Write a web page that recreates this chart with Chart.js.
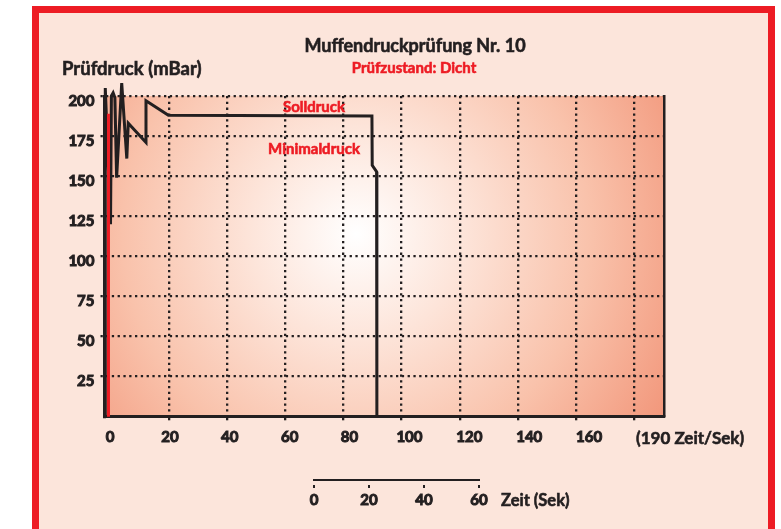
<!DOCTYPE html>
<html>
<head>
<meta charset="utf-8">
<script src="https://cdn.jsdelivr.net/npm/chart.js@4.4.0/dist/chart.umd.min.js"></script>
<style>
  html, body { margin: 0; padding: 0; width: 781px; height: 529px; overflow: hidden; background: #fff; }
  body { position: relative; font-family: Lato, "Open Sans", sans-serif; font-weight: 700; color: #231f20; }
  #frame { position: absolute; left: 32px; top: 6px; width: 729px; height: 560px; border: 7px solid #ed1c24; background: #fce5db; }
  canvas { position: absolute; }
  #main { left: 0; top: 0; }
  #bar { left: 290px; top: 465px; }
  .t { position: absolute; white-space: nowrap; line-height: 1; -webkit-text-stroke: 0.6px currentColor; }
  .red { color: #ed1c24; }
</style>
</head>
<body>
<div id="frame"></div>
<canvas id="main" width="781" height="529"></canvas>
<canvas id="bar" width="320" height="50"></canvas>

<div class="t" style="left:215px;width:400px;text-align:center;top:36px;font-size:18px;">Muffendruckprüfung Nr. 10</div>
<div class="t red" style="left:264px;width:300px;text-align:center;top:60px;font-size:15px;">Prüfzustand: Dicht</div>
<div class="t" style="left:62px;top:59px;font-size:18.5px;">Prüfdruck (mBar)</div>
<div class="t red" style="left:214px;width:200px;text-align:center;top:99px;font-size:15px;">Solldruck</div>
<div class="t red" style="left:214px;width:200px;text-align:center;top:141px;font-size:15px;">Minimaldruck</div>
<div class="t" style="left:636px;top:429px;font-size:17px;">(190 Zeit/Sek)</div>
<div class="t" style="left:501px;top:492px;font-size:16.5px;">Zeit (Sek)</div>

<script>
// Messwerte (Zeit in Sek, Druck in mBar)
const timeSec  = [-1.9, -1.9, -0.1, 0.2, 0.8, 1.4, 2.0, 3.75, 5.5, 6.0, 12.1, 12.1, 19.8, 89.8, 89.9, 91.4, 91.5];
const pressure = [0, 205, 120, 200, 202, 199, 149, 208, 161, 183, 171, 197, 188, 187.6, 156.8, 152.8, 0];

// rote Startmarke
const startTime     = [-0.8, -0.8];
const startPressure = [0, 189];

// Achsen
const yTicks    = [0, 25, 50, 75, 100, 125, 150, 175, 200];
const xGrid     = [20, 40, 60, 80, 100, 120, 140, 160, 180];
const xLabels   = [0, 20, 40, 60, 80, 100, 120, 140, 160];
const barLabels = [0, 20, 40, 60];

const ink = '#231f20';
const red = '#ed1c24';
const dots = [2.3, 3.5];
const tickFont = { family: 'Lato, "Open Sans", sans-serif', weight: 'bold', size: 15 };
const tickStyle = { color: ink, font: tickFont, textStrokeColor: ink, textStrokeWidth: 1 };

const toPoints = (xs, ys) => xs.map((x, i) => ({ x, y: ys[i] }));

// Hintergrund im Diagramm (radialer Verlauf)
const plotBg = {
  id: 'plotBg',
  beforeDraw(chart) {
    const { ctx, chartArea: a } = chart;
    const cx = a.left + (a.right - a.left) * 0.45;
    const cy = a.top + (a.bottom - a.top) * 0.43;
    const g = ctx.createRadialGradient(cx, cy, 0, cx, cy, 360);
    g.addColorStop(0, '#ffffff');
    g.addColorStop(0.3, '#fde4d9');
    g.addColorStop(0.65, '#f9c2ab');
    g.addColorStop(1, '#f2967a');
    ctx.save();
    ctx.fillStyle = g;
    ctx.fillRect(a.left, a.top, a.right - a.left, a.bottom - a.top);
    ctx.restore();
  }
};

new Chart(document.getElementById('main'), {
  type: 'line',
  data: {
    datasets: [
      {
        data: toPoints(startTime, startPressure),
        borderColor: red, borderWidth: 3, pointRadius: 0, clip: false
      },
      {
        data: toPoints(timeSec, pressure),
        borderColor: ink, borderWidth: 3, pointRadius: 0, tension: 0, clip: false
      }
    ]
  },
  options: {
    responsive: false,
    animation: false,
    events: [],
    layout: { padding: { top: 96, right: 117, bottom: 68.3, left: 0 } },
    plugins: { legend: { display: false }, tooltip: { enabled: false } },
    scales: {
      x: {
        type: 'linear', position: 'bottom', weight: 0,
        min: -2.17, max: 190.24,
        afterFit: s => { s.height = 4; },
        afterBuildTicks: s => { s.ticks = xGrid.map(v => ({ value: v })); },
        ticks: { display: false },
        grid: { color: ink, lineWidth: 2.3, tickLength: 4, tickBorderDash: dots },
        border: { color: ink, width: 3, dash: dots }
      },
      xl: {
        type: 'linear', position: 'bottom', weight: 1,
        min: -1.84, max: 185,
        afterFit: s => { s.height = 40; },
        afterBuildTicks: s => { s.ticks = xLabels.map(v => ({ value: v })); },
        ticks: { ...tickStyle, padding: 7, maxRotation: 0, autoSkip: false },
        grid: { display: false, drawTicks: false },
        border: { display: false }
      },
      y: {
        position: 'left', min: 0, max: 200,
        afterFit: s => { s.width = 104.5; },
        afterBuildTicks: s => { s.ticks = yTicks.map(v => ({ value: v })); },
        ticks: {
          ...tickStyle, padding: 6, labelOffset: 5,
          callback: v => (v === 0 ? '' : v)
        },
        grid: {
          color: c => (c.tick && c.tick.value === 0 ? 'rgba(0,0,0,0)' : ink),
          lineWidth: 2.3, tickLength: 4, tickBorderDash: dots
        },
        border: { color: ink, width: 3, dash: dots }
      },
      yr: {
        position: 'right', min: 0, max: 200,
        afterFit: s => { s.width = 0; },
        ticks: { display: false },
        grid: { display: false, drawTicks: false },
        border: { color: ink, width: 2.5 }
      }
    }
  },
  plugins: [plotBg]
});

// Zeitmaßstab unten
new Chart(document.getElementById('bar'), {
  type: 'line',
  data: { datasets: [] },
  options: {
    responsive: false,
    animation: false,
    events: [],
    layout: { padding: { top: 5, right: 131, bottom: 5, left: 24 } },
    plugins: { legend: { display: false }, tooltip: { enabled: false } },
    scales: {
      x: {
        type: 'linear', position: 'bottom', min: 0, max: 60,
        afterFit: s => { s.height = 30; },
        afterBuildTicks: s => { s.ticks = barLabels.map(v => ({ value: v })); },
        ticks: { ...tickStyle, padding: 3, maxRotation: 0 },
        grid: { drawOnChartArea: false, color: ink, lineWidth: 2, tickLength: 8, tickBorderDash: [0, 4, 3, 20] },
        border: { color: ink, width: 2 }
      },
      y: { display: false, min: 0, max: 1 }
    }
  }
});
</script>
</body>
</html>
